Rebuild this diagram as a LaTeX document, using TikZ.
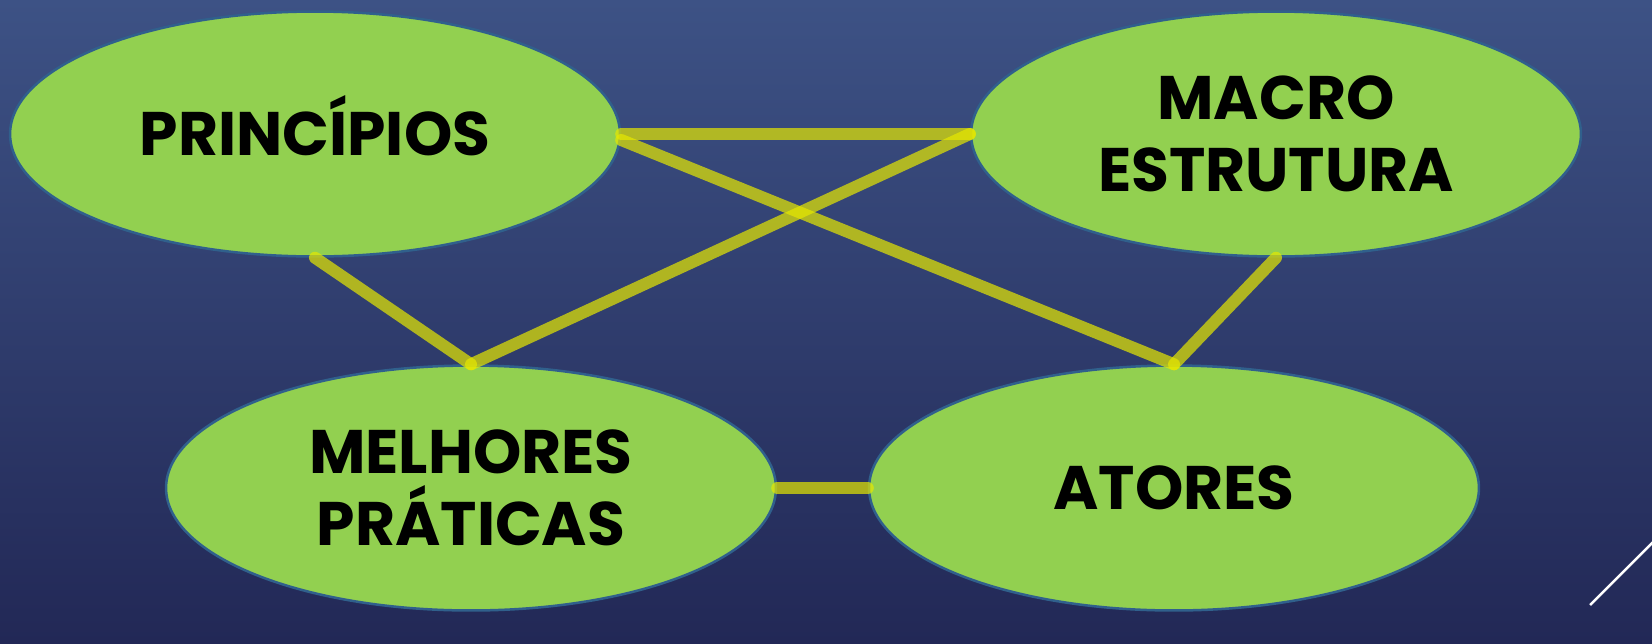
\documentclass[tikz,border=0pt]{standalone}
\usepackage{fontspec}
\setmainfont{Poppins}
\usetikzlibrary{shapes.geometric}
\definecolor{bgtop}{RGB}{61,82,133}
\definecolor{bgbot}{RGB}{34,40,86}
\definecolor{leaf}{RGB}{146,208,80}
\definecolor{rim}{RGB}{48,96,140}
\definecolor{link}{RGB}{230,232,0}

\begin{document}
\begin{tikzpicture}[x=0.02cm,y=-0.02cm,
  topic/.style={ellipse, fill=leaf, draw=rim, line width=0.05cm,
    minimum width=12.2cm, minimum height=4.9cm, align=center,
    font=\fontsize{35}{41}\selectfont\bfseries},
  tie/.style={draw=link, draw opacity=0.7, line width=0.24cm, line cap=round}]
\shade[top color=bgtop, bottom color=bgbot] (0,0) rectangle (1652,643);
\useasboundingbox (0,0) rectangle (1652,643);
\node[topic, text height=24pt, text depth=0pt] (princ) at (315,134) {PRINCÍPIOS};
\node[topic] (macro) at (1276,134) {MACRO\\ESTRUTURA};
\node[topic] (melh) at (471,488) {MELHORES\\PRÁTICAS};
\node[topic] (ator) at (1174,488) {ATORES};
\draw[tie] (princ.east) -- (macro.west);
\draw[tie] ([yshift=-0.12cm]princ.east) -- (ator.north);
\draw[tie] (macro.west) -- (melh.north);
\draw[tie] (princ.south) -- (melh.north);
\draw[tie] (macro.south) -- (ator.north);
\draw[tie] (melh.east) -- (ator.west);
\draw[white, line width=0.05cm] (1590,605) -- (1660,535);
\end{tikzpicture}
\end{document}
